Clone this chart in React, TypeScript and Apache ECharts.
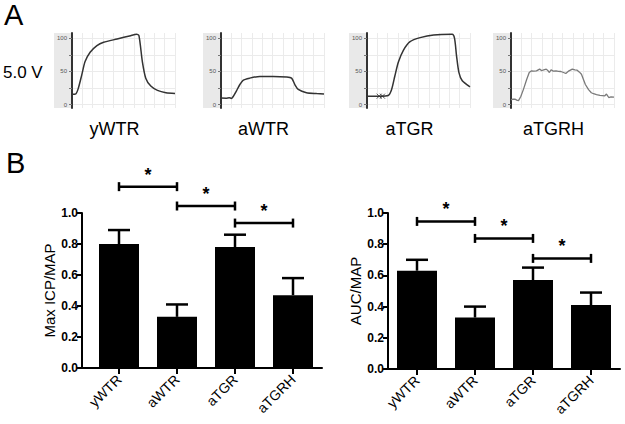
import React, { useEffect, useRef } from "react";
import * as echarts from "echarts";

// ---------- Panel A: pressure traces (x: % of recording window, y: mmHg) ----------
const traceNames = ["yWTR", "aWTR", "aTGR", "aTGRH"];

const trace_yWTR: [number, number][] = [
  [0, 15.6], [3.9, 16.6], [6.2, 25], [9.5, 45], [12.7, 65], [17.6, 79], [24.2, 89],
  [30.7, 94], [43.8, 99], [56.9, 104], [62.7, 106], [65, 104], [68.3, 65], [71.6, 40],
  [76.5, 28], [83, 21.5], [91.2, 18], [100, 17],
];
const trace_aWTR: [number, number][] = [
  [0, 10], [5, 9.8], [8, 10.5], [10, 9.5], [11.7, 12], [14.9, 20.6], [18.2, 30], [21.4, 36.8],
  [27.9, 40], [37.7, 42.6], [50.6, 42.6], [63.6, 41.7], [68.5, 40], [71.8, 30], [75, 23],
  [83, 18], [92.9, 16.7], [100, 16],
];
const trace_aTGR: [number, number][] = [
  [0, 12.8], [12.4, 12.8], [20.6, 13.8], [23.9, 23], [27.1, 43.6], [30.4, 64], [35.3, 82],
  [41.8, 95], [51.6, 101], [64.7, 105], [82.7, 106], [85, 100], [86.9, 74], [89.2, 48.7],
  [92.5, 36], [100, 27],
];
const marks_aTGR: [number, number][] = [[11.8, 12.8], [15, 12.8]];
const trace_aTGRH: [number, number][] = [
  [0, 7.2], [2, 8.5], [4.1, 8.2], [5.5, 6.8], [7.3, 6.2], [9.5, 12.4], [12, 22.7], [15.2, 38],
  [17.7, 48.5], [19.9, 51], [22, 50.5], [24.7, 51], [27.8, 53.6], [29.5, 51.5], [31, 52],
  [34.2, 53.6], [36, 51], [37.3, 48.5], [38.9, 52.6], [41, 50.5], [43.7, 51], [46, 50.2],
  [48.4, 50], [51, 48.5], [53.2, 47], [56.3, 51], [59.5, 53.6], [62, 52.5], [64.2, 52],
  [66.5, 49], [68.4, 45.9], [72.2, 30.4], [75.3, 22.7], [78, 18], [80.1, 16.5], [83, 15],
  [86.4, 13.9], [91.1, 13.4], [92.7, 16], [94.9, 10.8], [97, 11.6], [100, 11.3],
];
const traces = [trace_yWTR, trace_aWTR, trace_aTGR, trace_aTGRH];
const traceColors = ["#333333", "#333333", "#333333", "#7a7a7a"];
const traceTicks = [0, 25, 50, 75, 100];
const traceTickLabels = [0, 50, 100];

// ---------- Panel B: bar charts ----------
const groups = ["yWTR", "aWTR", "aTGR", "aTGRH"];
const maxIcpMean = [0.80, 0.33, 0.78, 0.47];
const maxIcpSem = [0.09, 0.08, 0.08, 0.11];
const aucMean = [0.63, 0.33, 0.57, 0.41];
const aucSem = [0.07, 0.07, 0.08, 0.08];
// significance brackets: [from group index, to group index, height]
const maxIcpBrackets: [number, number, number][] = [[0, 1, 1.17], [1, 2, 1.045], [2, 3, 0.935]];
const aucBrackets: [number, number, number][] = [[0, 1, 0.946], [1, 2, 0.837], [2, 3, 0.709]];

const FONT = "Liberation Sans, Arial, sans-serif";

// layout
const traceLeft = [72, 221, 367, 511];
const traceTop = 33;
const traceW = 103;
const traceH = 75;
const stripW = 18;
const barGrids = [
  { left: 90, top: 213, width: 232, height: 155 },
  { left: 388, top: 213, width: 232, height: 156 },
];

function errorBarSeries(gridIdx: number, mean: number[], sem: number[]) {
  return {
    type: "custom",
    xAxisIndex: gridIdx,
    yAxisIndex: gridIdx,
    clip: false,
    z: 5,
    encode: { x: 0, y: [1, 2] },
    data: mean.map((m, i) => [i, m, m + sem[i]]),
    renderItem: (params: any, api: any) => {
      const i = api.value(0);
      const p0 = api.coord([i, api.value(1)]);
      const p1 = api.coord([i, api.value(2)]);
      const cap = 11;
      const st = { stroke: "#000", lineWidth: 2.5 };
      return {
        type: "group",
        children: [
          { type: "line", shape: { x1: p0[0], y1: p0[1], x2: p1[0], y2: p1[1] }, style: st },
          { type: "line", shape: { x1: p1[0] - cap, y1: p1[1], x2: p1[0] + cap, y2: p1[1] }, style: st },
        ],
      };
    },
  };
}

function bracketSeries(gridIdx: number, br: [number, number, number][]) {
  return {
    type: "custom",
    xAxisIndex: gridIdx,
    yAxisIndex: gridIdx,
    clip: false,
    z: 5,
    encode: { x: 0, y: 2 },
    data: br,
    renderItem: (params: any, api: any) => {
      const a = api.coord([api.value(0), api.value(2)]);
      const b = api.coord([api.value(1), api.value(2)]);
      const st = { stroke: "#000", lineWidth: 2.5 };
      const t = 4.5;
      return {
        type: "group",
        children: [
          { type: "line", shape: { x1: a[0], y1: a[1], x2: b[0], y2: b[1] }, style: st },
          { type: "line", shape: { x1: a[0], y1: a[1] - t, x2: a[0], y2: a[1] + t }, style: st },
          { type: "line", shape: { x1: b[0], y1: b[1] - t, x2: b[0], y2: b[1] + t }, style: st },
          {
            type: "text",
            x: (a[0] + b[0]) / 2,
            y: a[1] - 3,
            style: {
              text: "*",
              fill: "#000",
              font: `bold 18px ${FONT}`,
              align: "center",
              verticalAlign: "bottom",
            },
          },
        ],
      };
    },
  };
}

export default function App() {
  const ref = useRef<HTMLDivElement>(null);
  useEffect(() => {
    if (!ref.current) return;
    const chart = echarts.init(ref.current, undefined, { renderer: "svg" });

    const grids: any[] = [];
    const xAxes: any[] = [];
    const yAxes: any[] = [];
    const series: any[] = [];
    const graphics: any[] = [];

    // bar grids first (indices 0,1)
    const yNames = ["Max ICP/MAP", "AUC/MAP"];
    const nameGaps = [16, 25];
    barGrids.forEach((g, gi) => {
      grids.push({ ...g, containLabel: false });
      xAxes.push({
        type: "category",
        gridIndex: gi,
        data: groups,
        axisLine: { show: true, lineStyle: { color: "#000", width: 2 } },
        axisTick: { show: true, alignWithLabel: true, length: 6, lineStyle: { color: "#000", width: 2 } },
        axisLabel: {
          rotate: 45,
          margin: 9,
          color: "#000",
          fontSize: 14,
          fontFamily: FONT,
        },
        splitLine: { show: false },
      });
      yAxes.push({
        type: "value",
        gridIndex: gi,
        min: 0,
        max: 1,
        interval: 0.2,
        offset: gi === 0 ? 8 : 0,
        name: yNames[gi],
        nameLocation: "middle",
        nameGap: nameGaps[gi],
        nameTextStyle: { color: "#000", fontSize: 15, fontFamily: FONT },
        axisLine: { show: true, lineStyle: { color: "#000", width: 2 } },
        axisTick: { show: true, length: 5, lineStyle: { color: "#000", width: 2 } },
        axisLabel: {
          color: "#000",
          fontSize: 12,
          fontWeight: "bold",
          fontFamily: FONT,
          margin: 4,
          formatter: (v: number) => v.toFixed(1),
        },
        splitLine: { show: false },
      });
    });
    series.push({
      type: "bar", xAxisIndex: 0, yAxisIndex: 0, data: maxIcpMean, barWidth: 40,
      itemStyle: { color: "#000" }, z: 3,
    });
    series.push({
      type: "bar", xAxisIndex: 1, yAxisIndex: 1, data: aucMean, barWidth: 40,
      itemStyle: { color: "#000" }, z: 3,
    });
    series.push(errorBarSeries(0, maxIcpMean, maxIcpSem));
    series.push(errorBarSeries(1, aucMean, aucSem));
    series.push(bracketSeries(0, maxIcpBrackets));
    series.push(bracketSeries(1, aucBrackets));

    // x-axis line extension to the offset y-axis (left chart)
    const g0 = barGrids[0];
    graphics.push({
      type: "line",
      shape: { x1: g0.left - 9, y1: g0.top + g0.height, x2: g0.left, y2: g0.top + g0.height },
      style: { stroke: "#000", lineWidth: 2 },
    });

    // trace grids (indices 2..5)
    traces.forEach((tr, k) => {
      const gi = k + 2;
      grids.push({ left: traceLeft[k], top: traceTop, width: traceW, height: traceH });
      xAxes.push({
        type: "value", gridIndex: gi, min: 0, max: 100, interval: 10,
        axisLine: { show: false }, axisTick: { show: false }, axisLabel: { show: false },
        splitLine: { show: true, lineStyle: { color: "#ebebeb", width: 1 } },
      });
      yAxes.push({
        type: "value", gridIndex: gi, min: -5, max: 108,
        axisLine: { show: true, onZero: false, lineStyle: { color: "#333", width: 2 } },
        axisTick: { show: true, customValues: traceTicks, length: 3, inside: false, lineStyle: { color: "#777", width: 1 } },
        axisLabel: {
          customValues: traceTickLabels, fontSize: 6, color: "#555", margin: 5, fontFamily: FONT,
        },
        splitLine: { show: true, lineStyle: { color: "#ebebeb", width: 1 } },
      });
      series.push({
        type: "line", xAxisIndex: gi, yAxisIndex: gi, data: tr, showSymbol: false,
        smooth: k === 3 ? false : 0.25,
        lineStyle: { color: traceColors[k], width: k === 3 ? 1.3 : 1.5 },
        z: 4,
      });
      // gray strip holding the tick labels
      graphics.push({
        type: "rect",
        z: -10,
        shape: { x: traceLeft[k] - stripW, y: traceTop, width: stripW, height: traceH },
        style: { fill: "#e9e9e9" },
      });
      graphics.push({
        type: "text",
        x: traceLeft[k] - stripW + (traceW + stripW) / 2,
        y: 129,
        style: {
          text: traceNames[k], fill: "#000", font: `18px ${FONT}`,
          align: "center", verticalAlign: "middle",
        },
      });
    });
    series.push({
      type: "scatter", xAxisIndex: 4, yAxisIndex: 4, data: marks_aTGR,
      symbol: "path://M0,0L10,10M10,0L0,10", symbolSize: 5,
      itemStyle: { color: "none", borderColor: "#333", borderWidth: 1 }, z: 5,
    });

    graphics.push({
      type: "text", x: 4, y: 15,
      style: { text: "A", fill: "#000", font: `29px ${FONT}`, align: "left", verticalAlign: "middle" },
    });
    graphics.push({
      type: "text", x: 3, y: 72,
      style: { text: "5.0 V", fill: "#000", font: `17px ${FONT}`, align: "left", verticalAlign: "middle" },
    });
    graphics.push({
      type: "text", x: 6, y: 163,
      style: { text: "B", fill: "#000", font: `29px ${FONT}`, align: "left", verticalAlign: "middle" },
    });

    chart.setOption({
      animation: false,
      backgroundColor: "#fff",
      grid: grids,
      xAxis: xAxes,
      yAxis: yAxes,
      series,
      graphic: { elements: graphics },
    });
    return () => chart.dispose();
  }, []);
  return (
    <div
      ref={ref}
      style={{ position: "fixed", left: 0, top: 0, width: 625, height: 424 }}
    />
  );
}
